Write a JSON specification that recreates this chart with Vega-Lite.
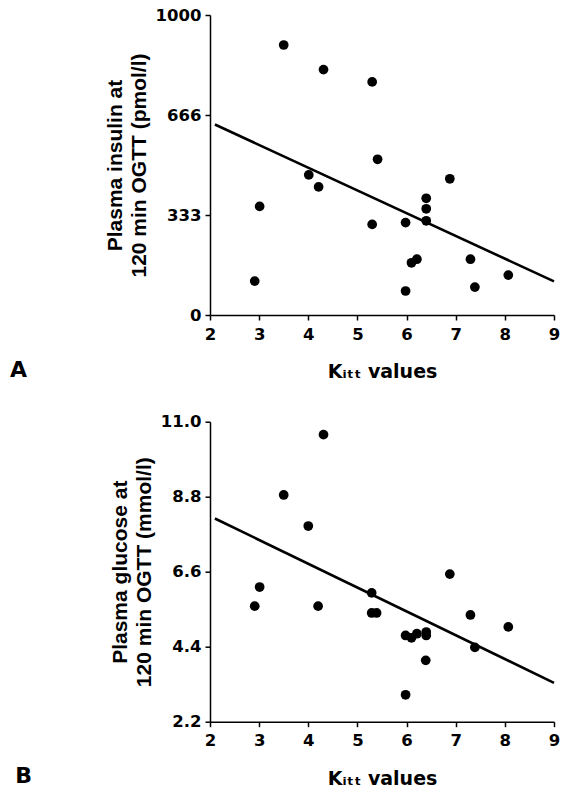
{
  "$schema": "https://vega.github.io/schema/vega-lite/v6.json",
  "background": "white",
  "padding": {"left": 10, "top": 7, "right": 0, "bottom": 0},
  "config": {
    "view": {"stroke": null},
    "font": "DejaVu Sans",
    "axis": {
      "grid": false,
      "domainColor": "black",
      "domainWidth": 1.5,
      "tickColor": "black",
      "tickWidth": 1.5,
      "tickSize": 5,
      "labelFont": "DejaVu Sans",
      "labelFontSize": 16.5,
      "labelFontWeight": "bold",
      "labelColor": "black",
      "labelPadding": 4,
      "titleColor": "black",
      "titleFontWeight": "bold"
    },
    "axisX": {"labelPadding": 6, "labelFlush": false, "titleFont": "DejaVu Sans", "titleFontSize": 19, "titlePadding": 20},
    "axisY": {"titleFont": "Liberation Sans", "titleFontSize": 21, "titleLineHeight": 24, "titlePadding": 6},
    "title": {"font": "DejaVu Sans", "fontSize": 22, "fontWeight": "bold", "color": "black"}
  },
  "datasets": {
    "insulin": [
      {"kitt": 2.91, "value": 113}, {"kitt": 3.01, "value": 362}, {"kitt": 3.5, "value": 900},
      {"kitt": 4.01, "value": 467}, {"kitt": 4.21, "value": 427}, {"kitt": 4.31, "value": 818},
      {"kitt": 5.3, "value": 777}, {"kitt": 5.3, "value": 302}, {"kitt": 5.41, "value": 519},
      {"kitt": 5.98, "value": 308}, {"kitt": 5.98, "value": 80}, {"kitt": 6.1, "value": 174},
      {"kitt": 6.21, "value": 186}, {"kitt": 6.4, "value": 389}, {"kitt": 6.4, "value": 354},
      {"kitt": 6.4, "value": 314}, {"kitt": 6.88, "value": 454}, {"kitt": 7.3, "value": 186},
      {"kitt": 7.39, "value": 93}, {"kitt": 8.07, "value": 133}
    ],
    "insulinFit": [{"kitt": 2.1, "value": 635}, {"kitt": 9.0, "value": 112}],
    "glucose": [
      {"kitt": 2.91, "value": 5.59}, {"kitt": 3.01, "value": 6.15}, {"kitt": 3.5, "value": 8.85},
      {"kitt": 4.0, "value": 7.94}, {"kitt": 4.2, "value": 5.59}, {"kitt": 4.31, "value": 10.62},
      {"kitt": 5.29, "value": 5.98}, {"kitt": 5.29, "value": 5.39}, {"kitt": 5.39, "value": 5.39},
      {"kitt": 5.98, "value": 4.73}, {"kitt": 5.98, "value": 2.99}, {"kitt": 6.1, "value": 4.66},
      {"kitt": 6.21, "value": 4.78}, {"kitt": 6.4, "value": 4.83}, {"kitt": 6.4, "value": 4.73},
      {"kitt": 6.39, "value": 4.0}, {"kitt": 6.88, "value": 6.53}, {"kitt": 7.3, "value": 5.33},
      {"kitt": 7.39, "value": 4.38}, {"kitt": 8.07, "value": 4.98}
    ],
    "glucoseFit": [{"kitt": 2.1, "value": 8.16}, {"kitt": 9.0, "value": 3.34}]
  },
  "spacing": 106.7,
  "bounds": "flush",
  "vconcat": [
    {
      "width": 344,
      "height": 300,
      "title": {"text": "A", "orient": "bottom", "anchor": "start", "frame": "bounds", "dx": -94, "offset": -22},
      "layer": [
        {
          "data": {"name": "insulin"},
          "mark": {"type": "circle", "size": 95, "color": "black", "opacity": 1},
          "encoding": {
            "x": {"field": "kitt", "type": "quantitative", "scale": {"domain": [2, 9], "nice": false, "zero": false},
                  "axis": {"values": [2, 3, 4, 5, 6, 7, 8, 9], "title": "Kᵢₜₜ values"}},
            "y": {"field": "value", "type": "quantitative", "scale": {"domain": [0, 1000], "nice": false},
                  "axis": {"values": [0, 333, 666, 1000], "format": "d", "title": ["Plasma insulin at", "120 min OGTT (pmol/l)"]}}
          }
        },
        {
          "data": {"name": "insulinFit"},
          "mark": {"type": "line", "color": "black", "strokeWidth": 2.6},
          "encoding": {
            "x": {"field": "kitt", "type": "quantitative"},
            "y": {"field": "value", "type": "quantitative"}
          }
        }
      ]
    },
    {
      "width": 344,
      "height": 300,
      "title": {"text": "B", "orient": "bottom", "anchor": "start", "frame": "bounds", "dx": -94, "offset": -22},
      "layer": [
        {
          "data": {"name": "glucose"},
          "mark": {"type": "circle", "size": 95, "color": "black", "opacity": 1},
          "encoding": {
            "x": {"field": "kitt", "type": "quantitative", "scale": {"domain": [2, 9], "nice": false, "zero": false},
                  "axis": {"values": [2, 3, 4, 5, 6, 7, 8, 9], "title": "Kᵢₜₜ values"}},
            "y": {"field": "value", "type": "quantitative", "scale": {"domain": [2.2, 11.0], "nice": false, "zero": false},
                  "axis": {"values": [2.2, 4.4, 6.6, 8.8, 11.0], "format": ".1f", "title": ["Plasma glucose at", "120 min OGTT (mmol/l)"]}}
          }
        },
        {
          "data": {"name": "glucoseFit"},
          "mark": {"type": "line", "color": "black", "strokeWidth": 2.6},
          "encoding": {
            "x": {"field": "kitt", "type": "quantitative"},
            "y": {"field": "value", "type": "quantitative"}
          }
        }
      ]
    }
  ]
}
